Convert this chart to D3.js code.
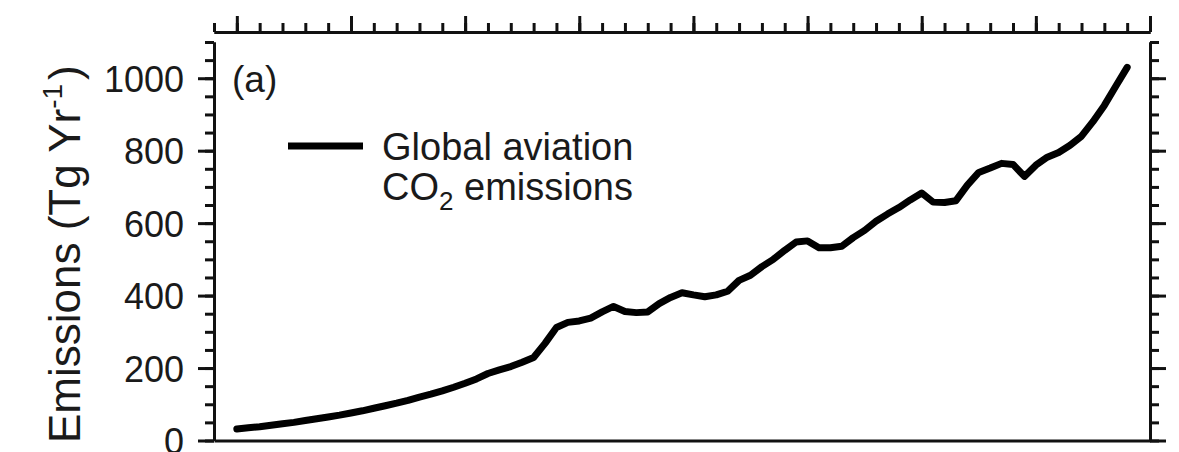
<!DOCTYPE html>
<html>
<head>
<meta charset="utf-8">
<script src="https://cdn.jsdelivr.net/npm/d3@7"></script>
<style>
  body { margin: 0; background: #fff; }
  svg { display: block; font-family: "Liberation Sans", Arial, Helvetica, sans-serif; }
  .axis path, .axis line { stroke: #111; stroke-width: 3; }
  .axis text { fill: #1a1a1a; }
</style>
</head>
<body>
<div id="chart"></div>
<script>
// Global aviation CO2 emissions, Tg per year
var years = [1940, 1941, 1942, 1943, 1944, 1945, 1946, 1947, 1948, 1949,
  1950, 1951, 1952, 1953, 1954, 1955, 1956, 1957, 1958, 1959,
  1960, 1961, 1962, 1963, 1964, 1965, 1966, 1967, 1968, 1969,
  1970, 1971, 1972, 1973, 1974, 1975, 1976, 1977, 1978, 1979,
  1980, 1981, 1982, 1983, 1984, 1985, 1986, 1987, 1988, 1989,
  1990, 1991, 1992, 1993, 1994, 1995, 1996, 1997, 1998, 1999,
  2000, 2001, 2002, 2003, 2004, 2005, 2006, 2007, 2008, 2009,
  2010, 2011, 2012, 2013, 2014, 2015, 2016, 2017, 2018];
var emissions = [32, 35, 38, 42, 46, 50, 55, 60, 65, 70,
  76, 82, 89, 96, 103, 111, 120, 128, 137, 147,
  158, 170, 185, 195, 204, 216, 229, 268, 312, 326,
  330, 338, 355, 370, 356, 353, 355, 378, 395, 408,
  402, 397, 402, 412, 442, 456, 480, 500, 525, 548,
  551, 532, 532, 536, 560, 580, 605, 625, 643, 664,
  683, 658, 657, 662, 705, 740, 752, 765, 762, 729,
  760, 782, 795, 815, 840, 880, 925, 978, 1030];

// Tick values
var yMajorTicks = [0, 200, 400, 600, 800, 1000];
var yMinorTicks = [0, 50, 100, 150, 200, 250, 300, 350, 400, 450, 500, 550,
  600, 650, 700, 750, 800, 850, 900, 950, 1000, 1050, 1100];
var xMajorTicks = [1940, 1950, 1960, 1970, 1980, 1990, 2000, 2010, 2020];
var xMinorTicks = [1938, 1940, 1942, 1944, 1946, 1948, 1950, 1952, 1954, 1956,
  1958, 1960, 1962, 1964, 1966, 1968, 1970, 1972, 1974, 1976, 1978, 1980,
  1982, 1984, 1986, 1988, 1990, 1992, 1994, 1996, 1998, 2000, 2002, 2004,
  2006, 2008, 2010, 2012, 2014, 2016, 2018, 2020];

function createEmissionsChart(containerId) {
  var w = 1179;
  var h = 452;
  var margin = {
    top: 42,
    bottom: 11.5,
    left: 214,
    right: 29
  };

  var svg = d3.select("#" + containerId)
    .append("svg")
    .attr("width", w)
    .attr("height", h);

  var x = d3.scaleLinear()
    .domain([1938, 2020])
    .range([margin.left, w - margin.right]);

  var y = d3.scaleLinear()
    .domain([0, 1100])
    .range([h - margin.bottom, margin.top]);

  // Top axis (sits a little above the plot box, ticks pointing up)
  svg.append("g")
    .attr("class", "axis")
    .attr("transform", "translate(0,32)")
    .call(d3.axisTop(x).tickValues(xMinorTicks).tickSize(9).tickSizeOuter(0).tickFormat(""));
  svg.append("g")
    .attr("class", "axis")
    .attr("transform", "translate(0,32)")
    .call(d3.axisTop(x).tickValues(xMajorTicks).tickSize(16).tickSizeOuter(0).tickFormat(""));

  // Bottom line at zero
  svg.append("g")
    .attr("class", "axis")
    .attr("transform", "translate(0," + y(0) + ")")
    .call(d3.axisBottom(x).tickValues([]).tickSizeOuter(0));

  // Left axis: minor then major ticks with labels
  svg.append("g")
    .attr("class", "axis")
    .attr("transform", "translate(" + margin.left + ",0)")
    .call(d3.axisLeft(y).tickValues(yMinorTicks).tickSize(9).tickSizeOuter(0).tickFormat(""));
  svg.append("g")
    .attr("class", "axis")
    .attr("transform", "translate(" + margin.left + ",0)")
    .call(d3.axisLeft(y).tickValues(yMajorTicks).tickSize(16).tickSizeOuter(0).tickPadding(14).tickFormat(d3.format("d")))
    .selectAll("text")
    .style("font-size", "36px")
    .attr("dy", "0.36em");

  // Right axis, ticks pointing out
  svg.append("g")
    .attr("class", "axis")
    .attr("transform", "translate(" + (w - margin.right) + ",0)")
    .call(d3.axisRight(y).tickValues(yMinorTicks).tickSize(9).tickSizeOuter(0).tickFormat(""));
  svg.append("g")
    .attr("class", "axis")
    .attr("transform", "translate(" + (w - margin.right) + ",0)")
    .call(d3.axisRight(y).tickValues(yMajorTicks).tickSize(16).tickSizeOuter(0).tickFormat(""));

  // Y axis title
  var ytitle = svg.append("text")
    .attr("transform", "translate(80,443) rotate(-90)")
    .style("font-size", "44px")
    .attr("fill", "#1a1a1a");
  ytitle.append("tspan").text("Emissions (Tg Yr");
  ytitle.append("tspan").attr("dy", -18).style("font-size", "28px").text("-1");
  ytitle.append("tspan").attr("dy", 18).attr("dx", 4).text(")");

  // Panel label
  svg.append("text")
    .attr("x", 232)
    .attr("y", 92)
    .style("font-size", "37px")
    .attr("fill", "#1a1a1a")
    .text("(a)");

  // Data line
  var line = d3.line()
    .x(function(d, i) { return x(years[i]); })
    .y(function(d) { return y(d); });

  svg.append("path")
    .datum(emissions)
    .attr("fill", "none")
    .attr("stroke", "#000")
    .attr("stroke-width", 7)
    .attr("stroke-linejoin", "round")
    .attr("stroke-linecap", "round")
    .attr("d", line);

  // Legend
  svg.append("line")
    .attr("x1", 288)
    .attr("x2", 363)
    .attr("y1", 146)
    .attr("y2", 146)
    .attr("stroke", "#000")
    .attr("stroke-width", 7);

  svg.append("text")
    .attr("x", 382)
    .attr("y", 160)
    .style("font-size", "38px")
    .attr("fill", "#1a1a1a")
    .text("Global aviation");

  var co2 = svg.append("text")
    .attr("x", 382)
    .attr("y", 200)
    .style("font-size", "38px")
    .attr("fill", "#1a1a1a");
  co2.append("tspan").text("CO");
  co2.append("tspan").attr("dy", 10).style("font-size", "26px").text("2");
  co2.append("tspan").attr("dy", -10).text(" emissions");
}

createEmissionsChart("chart");
</script>
</body>
</html>
